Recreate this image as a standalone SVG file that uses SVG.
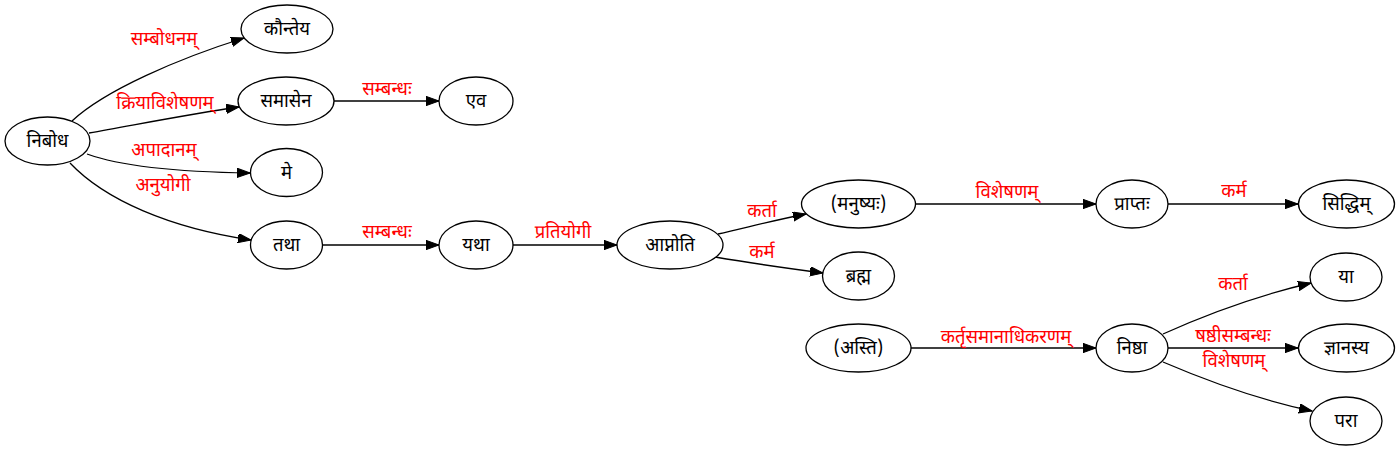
<svg xmlns="http://www.w3.org/2000/svg" width="1397" height="449" viewBox="0 0 1397 449">
<style>
.n ellipse{fill:#fff;stroke:#000;stroke-width:1.3}
.n text{font-family:"Noto Sans Devanagari","Noto Serif Devanagari","Lohit Devanagari","Gargi","Noto Sans","DejaVu Sans",sans-serif;font-size:18.5px;fill:#000;text-anchor:middle}
#edges path{fill:none;stroke:#000;stroke-width:1.3}
#edges text{font-family:"Noto Sans Devanagari","Noto Serif Devanagari","Lohit Devanagari","Gargi","Noto Sans","DejaVu Sans",sans-serif;font-size:18.5px;fill:#ff0000;text-anchor:middle}
</style>
<defs>
<marker id="ah" markerUnits="userSpaceOnUse" markerWidth="14" markerHeight="10" refX="13" refY="4.65" orient="auto">
<path d="M0,0 L13,4.65 L0,9.3 z" fill="#000" stroke="#000" stroke-width="1"/>
</marker>
</defs>
<rect width="1397" height="449" fill="#fff"/>
<g id="edges">
<path d="M72,121 C105,90 180,58 244,38" marker-end="url(#ah)"/>
<text x="164" y="45">सम्बोधनम्</text>
<path d="M89,133 C140,124 190,114 239,107" marker-end="url(#ah)"/>
<text x="165" y="109">क्रियाविशेषणम्</text>
<path d="M87,154 C120,166 180,172 250,173" marker-end="url(#ah)"/>
<text x="164" y="156">अपादानम्</text>
<path d="M70,163 C105,200 170,228 251,240" marker-end="url(#ah)"/>
<text x="163" y="191">अनुयोगी</text>
<path d="M334,101 L439,101" marker-end="url(#ah)"/>
<text x="387" y="95">सम्बन्धः</text>
<path d="M323,245 L439,245" marker-end="url(#ah)"/>
<text x="387" y="238">सम्बन्धः</text>
<path d="M513,245 L617,245" marker-end="url(#ah)"/>
<text x="563" y="238">प्रतियोगी</text>
<path d="M718,234 C745,228 775,220 806,214" marker-end="url(#ah)"/>
<text x="762" y="217">कर्ता</text>
<path d="M715,257 C750,263 785,268 823,273" marker-end="url(#ah)"/>
<text x="762" y="258">कर्म</text>
<path d="M915,204 L1096,204" marker-end="url(#ah)"/>
<text x="1007" y="198">विशेषणम्</text>
<path d="M1168,204 L1298,204" marker-end="url(#ah)"/>
<text x="1234" y="197">कर्म</text>
<path d="M911,348 L1096,348" marker-end="url(#ah)"/>
<text x="1006" y="343">कर्तृसमानाधिकरणम्</text>
<path d="M1163,334 C1205,315 1260,295 1311,283" marker-end="url(#ah)"/>
<text x="1233" y="290">कर्ता</text>
<path d="M1168,348 L1298,348" marker-end="url(#ah)"/>
<text x="1233" y="342">षष्ठीसम्बन्धः</text>
<text x="1234" y="367">विशेषणम्</text>
<path d="M1163,362 C1205,380 1260,400 1312,411" marker-end="url(#ah)"/>
</g>
<g id="n1" class="n"><ellipse cx="47.5" cy="141" rx="42.5" ry="24"/><text x="47.5" y="147">निबोध</text></g>
<g id="n2" class="n"><ellipse cx="287" cy="29" rx="46" ry="24"/><text x="287" y="35">कौन्तेय</text></g>
<g id="n3" class="n"><ellipse cx="286" cy="101" rx="48" ry="24"/><text x="286" y="107">समासेन</text></g>
<g id="n4" class="n"><ellipse cx="286.5" cy="172.5" rx="36" ry="24"/><text x="286.5" y="178.5">मे</text></g>
<g id="n5" class="n"><ellipse cx="286.5" cy="245" rx="36" ry="24"/><text x="286.5" y="251">तथा</text></g>
<g id="n6" class="n"><ellipse cx="476" cy="101" rx="37" ry="24"/><text x="476" y="107">एव</text></g>
<g id="n7" class="n"><ellipse cx="476" cy="245" rx="37" ry="24"/><text x="476" y="251">यथा</text></g>
<g id="n8" class="n"><ellipse cx="670" cy="245" rx="53" ry="24"/><text x="670" y="251">आप्नोति</text></g>
<g id="n9" class="n"><ellipse cx="858.5" cy="204" rx="57" ry="24"/><text x="858.5" y="210">(मनुष्यः)</text></g>
<g id="n10" class="n"><ellipse cx="858.5" cy="276" rx="36" ry="24"/><text x="858.5" y="282">ब्रह्म</text></g>
<g id="n11" class="n"><ellipse cx="1132" cy="204" rx="36" ry="24"/><text x="1132" y="210">प्राप्तः</text></g>
<g id="n12" class="n"><ellipse cx="1346.5" cy="204" rx="48" ry="24"/><text x="1346.5" y="210">सिद्धिम्</text></g>
<g id="n13" class="n"><ellipse cx="858.5" cy="348" rx="52.5" ry="24"/><text x="858.5" y="354">(अस्ति)</text></g>
<g id="n14" class="n"><ellipse cx="1132" cy="348" rx="36" ry="24"/><text x="1132" y="354">निष्ठा</text></g>
<g id="n15" class="n"><ellipse cx="1346" cy="277" rx="36" ry="24"/><text x="1346" y="283">या</text></g>
<g id="n16" class="n"><ellipse cx="1346.5" cy="348" rx="48" ry="24"/><text x="1346.5" y="354">ज्ञानस्य</text></g>
<g id="n17" class="n"><ellipse cx="1346" cy="421" rx="36" ry="24"/><text x="1346" y="427">परा</text></g>
</svg>
